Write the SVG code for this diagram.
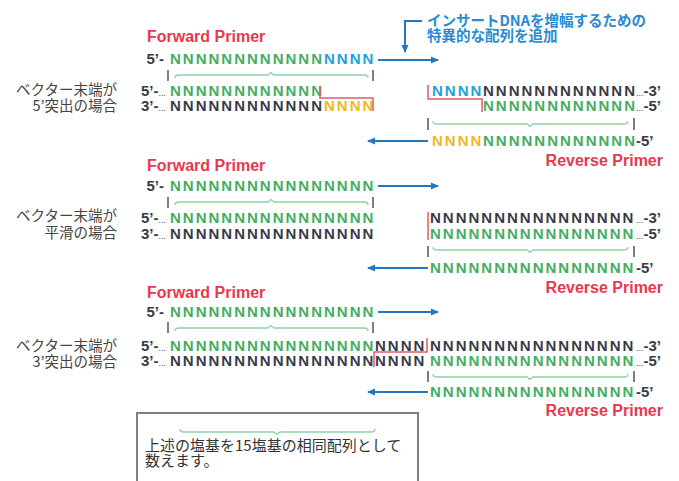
<svg xmlns="http://www.w3.org/2000/svg" width="679" height="481" viewBox="0 0 679 481">
<style>
text{font-family:"Liberation Sans",Arial,sans-serif}
.seq{font-size:15px;font-weight:bold;letter-spacing:2px}
.g{fill:#44ad5f}.c{fill:#1da2dd}.y{fill:#f1b81c}.k{fill:#3a3a46}
.end{font-size:15px;font-weight:bold;fill:#3a3a46}
.dots{font-size:9px;font-weight:normal}
.fp{font-size:16px;font-weight:bold;fill:#e8384f}
.jp{font-family:"Noto Sans CJK JP",sans-serif;font-size:14.5px;fill:#444}
.ann{font-family:"Noto Sans CJK JP",sans-serif;font-size:14.5px;fill:#2a8ad0;font-weight:bold}
.box{font-family:"Noto Sans CJK JP",sans-serif;font-size:15px;fill:#333}
.tick{stroke:#555;stroke-width:1.5}
.brace{fill:none;stroke:#8cd3a4;stroke-width:1.3}
.red{fill:none;stroke:#e45a68;stroke-width:1.5}
.arr{stroke:#2277c2;stroke-width:2;fill:none;marker-end:url(#ah)}
</style>
<defs>
<marker id="ah" markerWidth="8" markerHeight="8" refX="7" refY="4" orient="auto" markerUnits="userSpaceOnUse"><path d="M0,0.5 L8,4 L0,7.5 Z" fill="#2277c2"/></marker>
</defs>

<g id="annotation">
<text class="ann" x="427" y="26">インサートDNAを増幅するための</text>
<text class="ann" x="427" y="41">特異的な配列を追加</text>
</g>

<g id="section1">
<text class="fp" x="147" y="42">Forward Primer</text>
<text class="jp" x="117" y="95" text-anchor="end">ベクター末端が</text>
<text class="jp" x="117" y="111" text-anchor="end">5’突出の場合</text>
<text class="end" x="164" y="64" text-anchor="end">5’-</text>
<text class="seq" y="64"><tspan class="g" x="170">NNNNNNNNNNNN</tspan><tspan class="c" x="324">NNNN</tspan></text>
<text class="end" x="166" y="96" text-anchor="end">5’-<tspan class="dots">...</tspan></text>
<text class="seq" y="96"><tspan class="g" x="170">NNNNNNNNNNNN</tspan></text>
<text class="end" x="166" y="111" text-anchor="end">3’-<tspan class="dots">...</tspan></text>
<text class="seq" y="111"><tspan class="k" x="170">NNNNNNNNNNNN</tspan><tspan class="y" x="324">NNNN</tspan></text>
<line class="tick" x1="168" y1="70" x2="168" y2="81"/>
<line class="tick" x1="373" y1="70" x2="373" y2="81"/>
<path class="brace" d="M175,78 Q175,75 179,75 L268,75 L271,72.5 L274,75 L364,75 Q368,75 368,78"/>
<path class="red" d="M320,86 L320,98 L373,98 L373,111"/>
<text class="seq" y="96"><tspan class="c" x="432">NNNN</tspan><tspan class="k" x="483">NNNNNNNNNNNN</tspan></text>
<text class="end" x="636" y="96"><tspan class="dots">...</tspan>-3’</text>
<text class="seq" y="111"><tspan class="g" x="483">NNNNNNNNNNNN</tspan></text>
<text class="end" x="636" y="111"><tspan class="dots">...</tspan>-5’</text>
<path class="red" d="M428,85 L428,99 L482,99 L482,112"/>
<line class="tick" x1="428" y1="118" x2="428" y2="130"/>
<line class="tick" x1="634" y1="118" x2="634" y2="130"/>
<path class="brace" d="M433,121 Q433,124 437,124 L527,124 L530,126.5 L533,124 L624,124 Q628,124 628,121"/>
<text class="seq" y="146"><tspan class="y" x="432">NNNN</tspan><tspan class="g" x="483">NNNNNNNNNNNN</tspan></text>
<text class="end" x="636" y="146">-5’</text>
<text class="fp" x="663" y="166" text-anchor="end">Reverse Primer</text>
</g>

<g id="section2">
<text class="fp" x="147" y="171">Forward Primer</text>
<text class="jp" x="117" y="221" text-anchor="end">ベクター末端が</text>
<text class="jp" x="117" y="238" text-anchor="end">平滑の場合</text>
<text class="end" x="164" y="191" text-anchor="end">5’-</text>
<text class="seq" y="191"><tspan class="g" x="170">NNNNNNNNNNNNNNNN</tspan></text>
<text class="end" x="166" y="223" text-anchor="end">5’-<tspan class="dots">...</tspan></text>
<text class="seq" y="223"><tspan class="g" x="170">NNNNNNNNNNNNNNNN</tspan></text>
<text class="end" x="166" y="239" text-anchor="end">3’-<tspan class="dots">...</tspan></text>
<text class="seq" y="239"><tspan class="k" x="170">NNNNNNNNNNNNNNNN</tspan></text>
<line class="tick" x1="168" y1="197" x2="168" y2="208"/>
<line class="tick" x1="373" y1="197" x2="373" y2="208"/>
<path class="brace" d="M175,205 Q175,202 179,202 L268,202 L271,199.5 L274,202 L364,202 Q368,202 368,205"/>
<text class="seq" y="223"><tspan class="k" x="430">NNNNNNNNNNNNNNNN</tspan></text>
<text class="end" x="636" y="223"><tspan class="dots">...</tspan>-3’</text>
<text class="seq" y="239"><tspan class="g" x="430">NNNNNNNNNNNNNNNN</tspan></text>
<text class="end" x="636" y="239"><tspan class="dots">...</tspan>-5’</text>
<line class="red" x1="428" y1="212" x2="428" y2="240"/>
<line class="tick" x1="428" y1="246" x2="428" y2="257"/>
<line class="tick" x1="634" y1="246" x2="634" y2="257"/>
<path class="brace" d="M433,247 Q433,250 437,250 L527,250 L530,252.5 L533,250 L624,250 Q628,250 628,247"/>
<text class="seq" y="273"><tspan class="g" x="430">NNNNNNNNNNNNNNNN</tspan></text>
<text class="end" x="636" y="273">-5’</text>
<text class="fp" x="663" y="293" text-anchor="end">Reverse Primer</text>
</g>

<g id="section3">
<text class="fp" x="147" y="298">Forward Primer</text>
<text class="jp" x="117" y="351" text-anchor="end">ベクター末端が</text>
<text class="jp" x="117" y="367" text-anchor="end">3’突出の場合</text>
<text class="end" x="164" y="317" text-anchor="end">5’-</text>
<text class="seq" y="317"><tspan class="g" x="170">NNNNNNNNNNNNNNNN</tspan></text>
<text class="end" x="166" y="351" text-anchor="end">5’-<tspan class="dots">...</tspan></text>
<text class="seq" y="351"><tspan class="g" x="170">NNNNNNNNNNNNNNNN</tspan><tspan class="k" x="375">NNNN</tspan><tspan class="k" x="430">NNNNNNNNNNNNNNNN</tspan></text>
<text class="end" x="636" y="351"><tspan class="dots">...</tspan>-3’</text>
<text class="end" x="166" y="366" text-anchor="end">3’-<tspan class="dots">...</tspan></text>
<text class="seq" y="366"><tspan class="k" x="170">NNNNNNNNNNNNNNNN</tspan><tspan class="k" x="375">NNNN</tspan><tspan class="g" x="430">NNNNNNNNNNNNNNNN</tspan></text>
<text class="end" x="636" y="366"><tspan class="dots">...</tspan>-5’</text>
<line class="tick" x1="168" y1="322" x2="168" y2="333"/>
<line class="tick" x1="373" y1="322" x2="373" y2="333"/>
<path class="brace" d="M175,331 Q175,328 179,328 L268,328 L271,325.5 L274,328 L364,328 Q368,328 368,331"/>
<path class="red" d="M427,338 L427,352 L374,352 L374,367"/>
<line class="tick" x1="428" y1="371" x2="428" y2="382"/>
<line class="tick" x1="634" y1="371" x2="634" y2="382"/>
<path class="brace" d="M433,374 Q433,377 437,377 L527,377 L530,379.5 L533,377 L624,377 Q628,377 628,374"/>
<text class="seq" y="397"><tspan class="g" x="430">NNNNNNNNNNNNNNNN</tspan></text>
<text class="end" x="636" y="397">-5’</text>
<text class="fp" x="663" y="416" text-anchor="end">Reverse Primer</text>
</g>

<g id="note">
<path d="M137,482 L137,413 L418,413 L418,482" fill="#fff" stroke="#808080" stroke-width="2"/>
<path class="brace" d="M180,429 Q180,432 184,432 L274,432 L277,434.5 L280,432 L371,432 Q375,432 375,429"/>
<text class="box" x="145" y="451">上述の塩基を15塩基の相同配列として</text>
<text class="box" x="145" y="466">数えます。</text>
</g>

<g id="connectors">
<path class="arr" d="M422,21 L405,21 L405,52"/>
<line class="arr" x1="378" y1="60" x2="438" y2="60"/>
<line class="arr" x1="428" y1="141" x2="368" y2="141"/>
<line class="arr" x1="378" y1="186" x2="438" y2="186"/>
<line class="arr" x1="428" y1="268" x2="368" y2="268"/>
<line class="arr" x1="378" y1="312" x2="438" y2="312"/>
<line class="arr" x1="428" y1="392" x2="368" y2="392"/>
</g>
</svg>
